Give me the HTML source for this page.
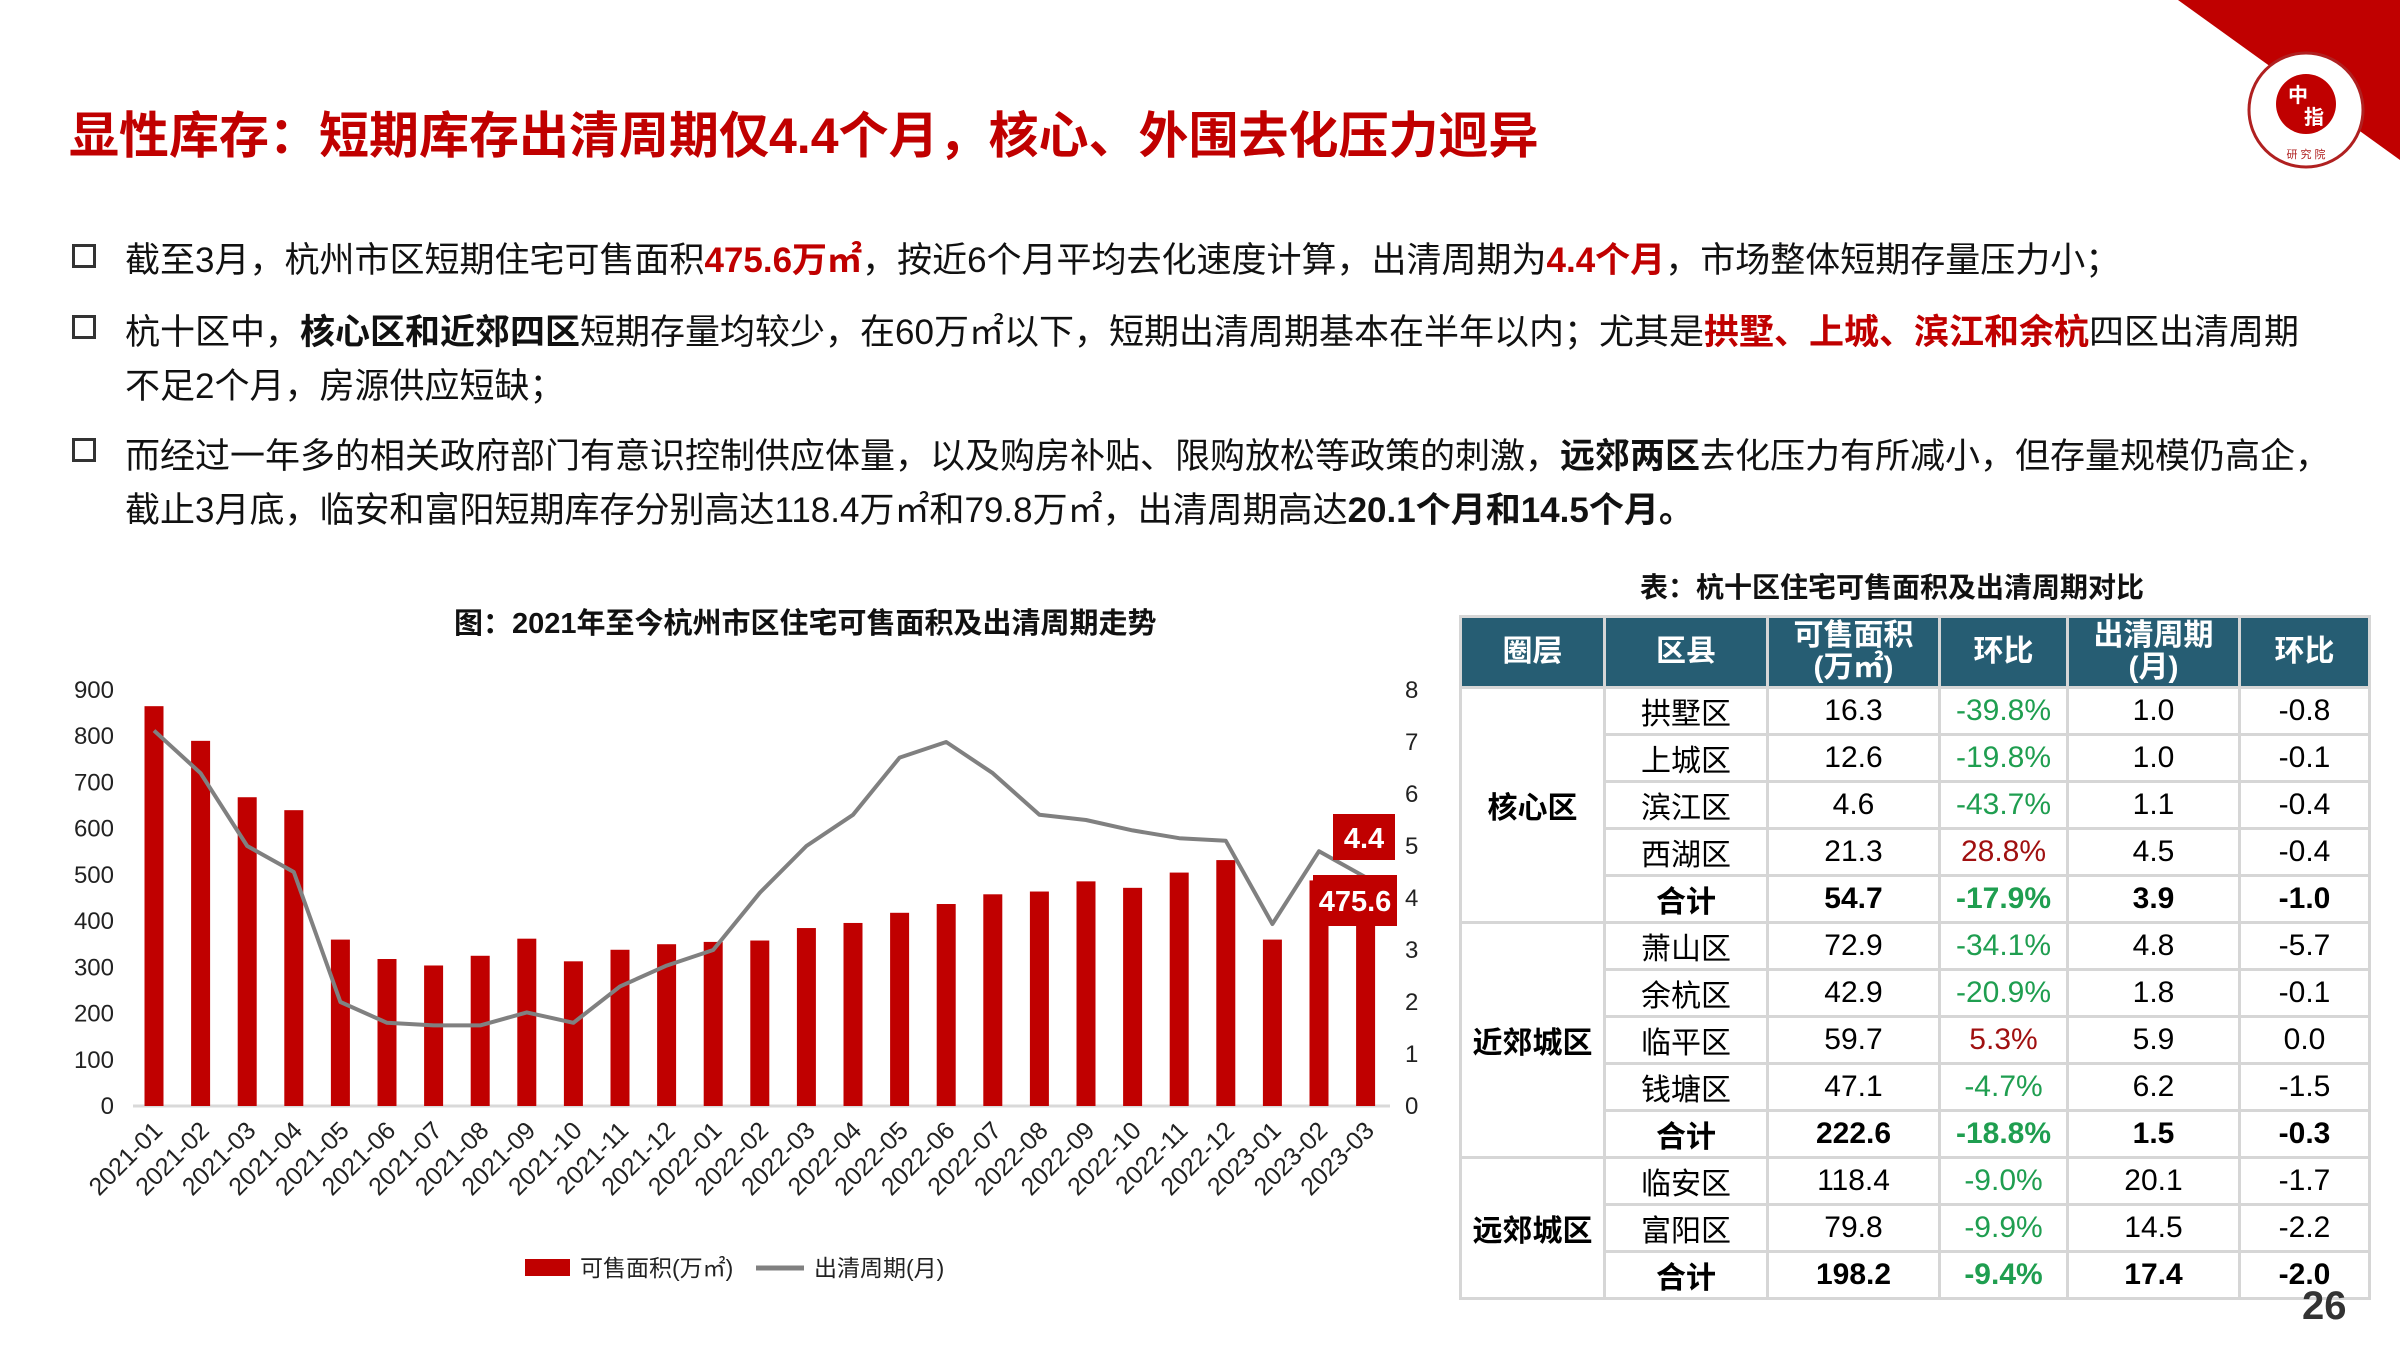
<!DOCTYPE html>
<html><head><meta charset="utf-8"><style>
html,body{margin:0;padding:0;background:#fff;}
body{width:2400px;height:1350px;position:relative;overflow:hidden;font-family:"Liberation Sans","Noto Sans CJK SC",sans-serif;}
.t{position:absolute;white-space:nowrap;color:#111;}
.r{color:#c00000;font-weight:bold;}
.b{font-weight:bold;}
.box{position:absolute;width:18px;height:18px;border:3px solid #333;}
table{position:absolute;left:1459px;top:615px;border-collapse:collapse;font-size:30px;}
td,th{border:3px solid #d6d6d6;text-align:center;padding:0;height:44px;}
th{background:#265d73;color:#fff;font-weight:bold;border-color:#d6d6d6;height:68px;line-height:32px;}
.g{color:#1f9e50;}.d{color:#a01010;}
</style></head><body>
<svg width="2400" height="1350" style="position:absolute;left:0;top:0">
<polygon points="2178,0 2400,0 2400,160" fill="#c00000"/>
<circle cx="2306" cy="110" r="57" fill="#fff" stroke="#b02020" stroke-width="3"/>
<circle cx="2306" cy="104" r="30" fill="#c00000"/>
<text x="2298" y="102" font-size="20" fill="#fff" font-weight="bold" text-anchor="middle" font-family="Liberation Sans,Noto Sans CJK SC,sans-serif">中</text>
<text x="2314" y="124" font-size="20" fill="#fff" font-weight="bold" text-anchor="middle" font-family="Liberation Sans,Noto Sans CJK SC,sans-serif">指</text>
<text x="2306" y="158" font-size="11" fill="#b02020" text-anchor="middle" font-family="Liberation Sans,Noto Sans CJK SC,sans-serif">研 究 院</text>
</svg>
<div class="t r" style="left:69px;top:96px;font-size:50px;">显性库存：短期库存出清周期仅4.4个月，核心、外围去化压力迥异</div>
<div class="box" style="left:72px;top:244px"></div>
<div class="box" style="left:72px;top:315px"></div>
<div class="box" style="left:72px;top:438px"></div>
<div class="t" style="left:125px;top:232px;font-size:35px;">截至3月，杭州市区短期住宅可售面积<span class="r">475.6万㎡</span>，按近6个月平均去化速度计算，出清周期为<span class="r">4.4个月</span>，市场整体短期存量压力小；</div>
<div class="t" style="left:125px;top:304px;font-size:35px;">杭十区中，<span class="b">核心区和近郊四区</span>短期存量均较少，在60万㎡以下，短期出清周期基本在半年以内；尤其是<span class="r">拱墅、上城、滨江和余杭</span>四区出清周期</div>
<div class="t" style="left:125px;top:358px;font-size:35px;">不足2个月，房源供应短缺；</div>
<div class="t" style="left:125px;top:428px;font-size:35px;">而经过一年多的相关政府部门有意识控制供应体量，以及购房补贴、限购放松等政策的刺激，<span class="b">远郊两区</span>去化压力有所减小，但存量规模仍高企，</div>
<div class="t" style="left:125px;top:482px;font-size:35px;">截止3月底，临安和富阳短期库存分别高达118.4万㎡和79.8万㎡，出清周期高达<span class="b">20.1个月和14.5个月。</span></div>

<div class="t b" style="left:454px;top:600px;font-size:29px;">图：2021年至今杭州市区住宅可售面积及出清周期走势</div>
<div class="t b" style="left:1640px;top:566px;font-size:28px;">表：杭十区住宅可售面积及出清周期对比</div>

<svg id="ch" width="2400" height="1350" style="position:absolute;left:0;top:0" font-family="Liberation Sans,Noto Sans CJK SC,sans-serif"></svg>

<table>
<colgroup><col style="width:144px"><col style="width:163px"><col style="width:172px"><col style="width:128px"><col style="width:172px"><col style="width:130px"></colgroup>
<tr><th>圈层</th><th>区县</th><th>可售面积<br>(万㎡)</th><th>环比</th><th>出清周期<br>(月)</th><th>环比</th></tr>
<tr><td rowspan="5" class="b">核心区</td><td>拱墅区</td><td>16.3</td><td class="g">-39.8%</td><td>1.0</td><td>-0.8</td></tr>
<tr><td>上城区</td><td>12.6</td><td class="g">-19.8%</td><td>1.0</td><td>-0.1</td></tr>
<tr><td>滨江区</td><td>4.6</td><td class="g">-43.7%</td><td>1.1</td><td>-0.4</td></tr>
<tr><td>西湖区</td><td>21.3</td><td class="d">28.8%</td><td>4.5</td><td>-0.4</td></tr>
<tr class="b"><td>合计</td><td>54.7</td><td class="g">-17.9%</td><td>3.9</td><td>-1.0</td></tr>
<tr><td rowspan="5" class="b">近郊城区</td><td>萧山区</td><td>72.9</td><td class="g">-34.1%</td><td>4.8</td><td>-5.7</td></tr>
<tr><td>余杭区</td><td>42.9</td><td class="g">-20.9%</td><td>1.8</td><td>-0.1</td></tr>
<tr><td>临平区</td><td>59.7</td><td class="d">5.3%</td><td>5.9</td><td>0.0</td></tr>
<tr><td>钱塘区</td><td>47.1</td><td class="g">-4.7%</td><td>6.2</td><td>-1.5</td></tr>
<tr class="b"><td>合计</td><td>222.6</td><td class="g">-18.8%</td><td>1.5</td><td>-0.3</td></tr>
<tr><td rowspan="3" class="b">远郊城区</td><td>临安区</td><td>118.4</td><td class="g">-9.0%</td><td>20.1</td><td>-1.7</td></tr>
<tr><td>富阳区</td><td>79.8</td><td class="g">-9.9%</td><td>14.5</td><td>-2.2</td></tr>
<tr class="b"><td>合计</td><td>198.2</td><td class="g">-9.4%</td><td>17.4</td><td>-2.0</td></tr>
</table>
<div class="t b" style="left:2302px;top:1284px;font-size:40px;color:#333;">26</div>

<script>
(function(){
var bars=[865,790,668,640,360,318,304,325,362,313,338,350,355,358,385,396,418,437,458,464,486,472,505,532,360,488,475.6];
var line=[7.22,6.4,5.0,4.5,2.0,1.6,1.55,1.55,1.8,1.6,2.3,2.7,3.0,4.1,5.0,5.6,6.7,7.0,6.4,5.6,5.5,5.3,5.15,5.1,3.5,4.9,4.4];
var labs=[];for(var y=2021;y<=2023;y++)for(var m=1;m<=12;m++){if(y==2023&&m>3)break;labs.push(y+'-'+(m<10?'0':'')+m);}
var base=1106,ytop=690,h=base-ytop;
var s='';
s+='<line x1="133" y1="'+base+'" x2="1390" y2="'+base+'" stroke="#d9d9d9" stroke-width="3"/>';
for(var i=0;i<=9;i++){var yy=base-h*i/9;s+='<text x="114" y="'+(yy+8)+'" font-size="24" text-anchor="end" fill="#222">'+(i*100)+'</text>';}
for(var i=0;i<=8;i++){var yy=base-h*i/8;s+='<text x="1405" y="'+(yy+8)+'" font-size="24" fill="#222">'+i+'</text>';}
var pts=[];
for(var i=0;i<27;i++){var cx=154+i*46.6;var bh=bars[i]/900*h;
s+='<rect x="'+(cx-9.5)+'" y="'+(base-bh)+'" width="19" height="'+bh+'" fill="#c00000"/>';
pts.push(cx+','+(base-line[i]/8*h));
s+='<text transform="translate('+(cx+10)+',1132) rotate(-45)" font-size="25" text-anchor="end" fill="#222">'+labs[i]+'</text>';}
s+='<polyline points="'+pts.join(' ')+'" fill="none" stroke="#808080" stroke-width="4" stroke-linejoin="round"/>';
s+='<rect x="1333" y="814" width="62" height="46" fill="#c00000"/><text x="1364" y="848" font-size="29" font-weight="bold" fill="#fff" text-anchor="middle">4.4</text>';
s+='<rect x="1313" y="875" width="84" height="51" fill="#c00000"/><text x="1355" y="911" font-size="29" font-weight="bold" fill="#fff" text-anchor="middle">475.6</text>';
s+='<rect x="525" y="1259" width="45" height="17" fill="#c00000"/><text x="580" y="1276" font-size="23" fill="#222">可售面积(万㎡)</text>';
s+='<line x1="756" y1="1268" x2="804" y2="1268" stroke="#808080" stroke-width="5"/><text x="814" y="1276" font-size="23" fill="#222">出清周期(月)</text>';
document.getElementById('ch').innerHTML=s;
})();
</script>
</body></html>
